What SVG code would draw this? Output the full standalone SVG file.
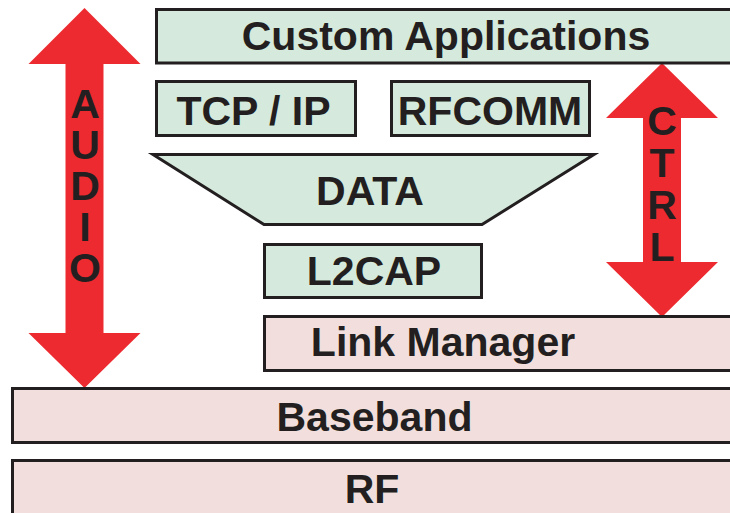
<svg xmlns="http://www.w3.org/2000/svg" width="730" height="513" viewBox="0 0 730 513">
  <style>
    .box { stroke: #231f20; stroke-width: 3; }
    .upper { fill: #d5eadc; }
    .lower { fill: #f2dfdd; }
    .arrow { fill: #ed2a2f; }
    text { font-family: "Liberation Sans", Arial, sans-serif; font-weight: bold; font-size: 41px; fill: #231f20; }
    .mid { text-anchor: middle; }
    .stack { writing-mode: vertical-rl; text-orientation: upright; }
  </style>
  <rect width="730" height="513" fill="#ffffff"/>

  <!-- double-headed side arrows -->
  <g id="connectors">
    <g id="audio-arrow">
      <path class="arrow" d="M84.5,8 L140.5,64 L103.5,64 L103.5,333 L140.5,333 L84.5,388 L28.5,333 L65.5,333 L65.5,64 L28.5,64 Z"/>
      <text class="stack" x="85" y="81" letter-spacing="-5">AUDIO</text>
    </g>
    <g id="ctrl-arrow">
      <path class="arrow" d="M662,63 L718,118 L681,118 L681,262 L718,262 L662,317 L606,262 L643,262 L643,118 L606,118 Z"/>
      <text class="stack" x="662" y="98" letter-spacing="-4">CTRL</text>
    </g>
  </g>

  <g id="custom-applications">
    <rect class="box upper" x="156.5" y="9.5" width="620" height="53.5"/>
    <text class="mid" x="446" y="50">Custom Applications</text>
  </g>

  <g id="tcp-ip">
    <rect class="box upper" x="156.5" y="81.5" width="199" height="54"/>
    <text class="mid" x="253.5" y="125">TCP / IP</text>
  </g>

  <g id="rfcomm">
    <rect class="box upper" x="391.5" y="81.5" width="198" height="54"/>
    <text class="mid" x="490" y="125">RFCOMM</text>
  </g>

  <g id="data">
    <polygon class="box upper" points="153,154.5 594,154.5 482,224.5 264,224.5"/>
    <text class="mid" x="370" y="205">DATA</text>
  </g>

  <g id="l2cap">
    <rect class="box upper" x="264.5" y="244.5" width="217" height="53"/>
    <text class="mid" x="374" y="285">L2CAP</text>
  </g>

  <g id="link-manager">
    <rect class="box lower" x="264.5" y="316.5" width="520" height="54"/>
    <text class="mid" x="443" y="356">Link Manager</text>
  </g>

  <g id="baseband">
    <rect class="box lower" x="12.5" y="388.5" width="770" height="54"/>
    <text class="mid" x="374.5" y="431">Baseband</text>
  </g>

  <g id="rf">
    <rect class="box lower" x="12.5" y="460.5" width="770" height="80"/>
    <text class="mid" x="372" y="503">RF</text>
  </g>
</svg>
